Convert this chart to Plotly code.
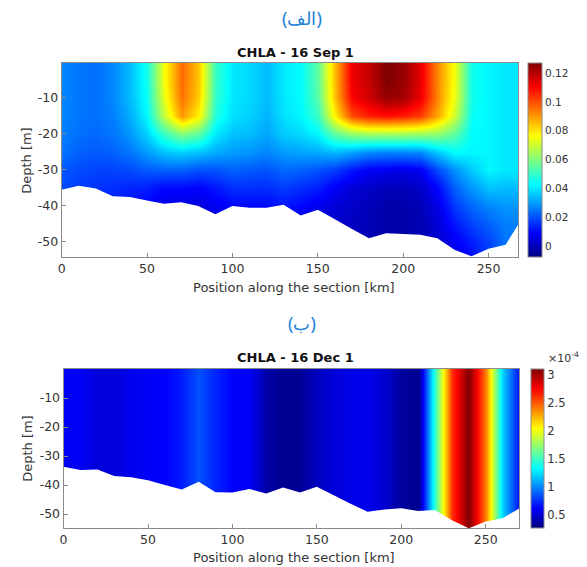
import plotly.graph_objects as go

# ---------------- data ----------------
stations_km = [0, 10, 20, 30, 40, 50, 60, 70, 80, 90, 100, 110, 120, 130, 140,
               150, 160, 170, 180, 190, 200, 210, 220, 230, 240, 250, 260, 270]
depth_levels = [0, -5, -10, -15, -20, -25, -30, -35, -40, -45, -50, -55]

# September CHLA, one row per depth level (values across stations)
sep_0m  = [0.027,0.025,0.024,0.027,0.034,0.045,0.075,0.096,0.084,0.050,0.040,0.038,0.034,0.040,0.043,0.055,0.085,0.112,0.118,0.127,0.124,0.113,0.092,0.075,0.045,0.042,0.040,0.040]
sep_5m  = [0.027,0.025,0.024,0.027,0.034,0.045,0.075,0.096,0.084,0.050,0.040,0.038,0.034,0.040,0.043,0.055,0.085,0.112,0.118,0.127,0.124,0.113,0.092,0.075,0.045,0.042,0.040,0.040]
sep_10m = [0.027,0.025,0.024,0.027,0.034,0.044,0.073,0.095,0.083,0.049,0.040,0.038,0.034,0.040,0.043,0.054,0.084,0.110,0.116,0.124,0.122,0.112,0.092,0.074,0.045,0.042,0.040,0.040]
sep_15m = [0.027,0.025,0.024,0.026,0.032,0.042,0.068,0.090,0.078,0.047,0.039,0.037,0.033,0.039,0.042,0.050,0.078,0.100,0.106,0.108,0.106,0.102,0.088,0.070,0.044,0.042,0.040,0.040]
sep_20m = [0.026,0.024,0.023,0.025,0.029,0.037,0.050,0.060,0.055,0.040,0.035,0.034,0.031,0.036,0.038,0.042,0.055,0.062,0.064,0.064,0.064,0.063,0.062,0.055,0.043,0.042,0.040,0.040]
sep_25m = [0.025,0.022,0.021,0.022,0.025,0.030,0.035,0.037,0.035,0.032,0.030,0.029,0.027,0.030,0.031,0.032,0.034,0.031,0.028,0.027,0.027,0.028,0.036,0.043,0.042,0.042,0.040,0.040]
sep_30m = [0.021,0.019,0.018,0.018,0.019,0.021,0.022,0.022,0.020,0.020,0.022,0.021,0.020,0.023,0.022,0.020,0.017,0.012,0.008,0.007,0.006,0.008,0.019,0.028,0.036,0.042,0.040,0.040]
sep_35m = [0.019,0.017,0.016,0.015,0.014,0.013,0.010,0.010,0.009,0.012,0.015,0.015,0.015,0.017,0.015,0.013,0.008,0.004,0.002,0.000,0.000,0.002,0.010,0.022,0.029,0.035,0.034,0.034]
sep_40m = [0.018,0.016,0.015,0.013,0.011,0.009,0.006,0.005,0.005,0.007,0.010,0.010,0.010,0.012,0.010,0.007,0.004,0.002,0.000,-0.002,-0.002,0.000,0.006,0.017,0.023,0.027,0.029,0.029]
sep_45m = [0.018,0.016,0.015,0.013,0.011,0.009,0.006,0.004,0.004,0.005,0.008,0.008,0.008,0.009,0.007,0.005,0.003,0.001,0.000,-0.002,-0.002,-0.001,0.004,0.012,0.018,0.022,0.026,0.026]
sep_50m = [0.018,0.016,0.015,0.013,0.011,0.009,0.006,0.004,0.004,0.005,0.008,0.008,0.008,0.009,0.007,0.005,0.003,0.001,0.000,-0.002,-0.002,-0.001,0.003,0.008,0.013,0.018,0.025,0.025]
sep_55m = [0.018,0.016,0.015,0.013,0.011,0.009,0.006,0.004,0.004,0.005,0.008,0.008,0.008,0.009,0.007,0.005,0.003,0.001,0.000,-0.002,-0.002,-0.001,0.003,0.006,0.010,0.017,0.025,0.025]

# December CHLA (same at all depths), per station
dec_chla = [0.60e-4,0.60e-4,0.52e-4,0.52e-4,0.58e-4,0.60e-4,0.62e-4,0.70e-4,0.85e-4,0.72e-4,
            0.62e-4,0.60e-4,0.38e-4,0.32e-4,0.33e-4,0.45e-4,0.52e-4,0.56e-4,0.57e-4,0.50e-4,
            0.35e-4,0.32e-4,1.45e-4,2.60e-4,3.10e-4,2.40e-4,1.20e-4,0.65e-4]

# Bathymetry (sea floor depth) along the section
sep_bottom_km = [0,10,20,30,40,50,60,70,80,90,100,110,120,130,140,150,160,170,180,190,200,210,220,230,240,250,260,267.5]
sep_bottom_m = [-35.5,-34.4,-35.2,-37.3,-37.5,-38.5,-39.4,-39.0,-40.0,-42.3,-40.0,-40.5,-40.5,-39.7,-42.7,
                -41.1,-43.7,-46.4,-49.0,-47.6,-47.8,-48.0,-49.0,-52.2,-54.0,-51.9,-50.8,-45.0]
dec_bottom_km = [0,10,20,30,40,50,60,70,80,90,100,110,120,130,140,150,160,170,180,190,200,210,220,230,240,250,260,270]
dec_bottom_m = [-33.7,-34.8,-34.6,-36.9,-37.3,-38.3,-40.0,-41.5,-38.9,-42.5,-42.6,-41.4,-42.9,-40.8,-42.6,
                -40.6,-43.5,-46.4,-49.2,-48.4,-48.0,-48.9,-48.6,-52.1,-54.9,-52.6,-51.4,-48.0]

sep_ticks = [0, 0.02, 0.04, 0.06, 0.08, 0.1, 0.12]
dec_ticks = [0.5e-4, 1e-4, 1.5e-4, 2e-4, 2.5e-4, 3e-4]
dec_ticktext = ["0.5", "1", "1.5", "2", "2.5", "3"]
x_ticks = [0, 50, 100, 150, 200, 250]
y_ticks = [-10, -20, -30, -40, -50]

# ---------------- figure ----------------
W, H = 587, 567
jet = [[0, "#000080"], [0.125, "#0000ff"], [0.375, "#00ffff"],
       [0.625, "#ffff00"], [0.875, "#ff0000"], [1, "#800000"]]
FONT = "DejaVu Sans"
TXT = "#333333"
AX = "#8a8a8a"

def px_x(p):
    return p / W

def px_y(p):
    return 1 - p / H

fig = go.Figure()

sep_z = [sep_0m, sep_5m, sep_10m, sep_15m, sep_20m, sep_25m, sep_30m,
         sep_35m, sep_40m, sep_45m, sep_50m, sep_55m]

fig.add_trace(go.Heatmap(
    x=stations_km, y=depth_levels, z=sep_z, zsmooth="best",
    colorscale=jet, zmin=-0.0076, zmax=0.127, xaxis="x", yaxis="y",
    colorbar=dict(x=px_x(524), xanchor="left", thickness=14,
                  y=px_y(160), yanchor="middle", len=(257 - 63) / H, lenmode="fraction",
                  tickvals=sep_ticks, ticktext=[f"{t:g}" for t in sep_ticks],
                  tickfont=dict(family=FONT, size=10.5, color=TXT),
                  outlinewidth=1, outlinecolor=AX, ticks="", ypad=0, xpad=4),
    hoverinfo="skip"))

fig.add_trace(go.Scatter(
    x=sep_bottom_km + [sep_bottom_km[-1], sep_bottom_km[0]],
    y=sep_bottom_m + [-60, -60],
    fill="toself", fillcolor="white", mode="none", xaxis="x", yaxis="y",
    showlegend=False, hoverinfo="skip"))

dec_z = [dec_chla, dec_chla]
fig.add_trace(go.Heatmap(
    x=stations_km, y=[0, -60], z=dec_z, zsmooth="best",
    colorscale=jet, zmin=0.27e-4, zmax=3.1e-4, xaxis="x2", yaxis="y2",
    colorbar=dict(x=px_x(527), xanchor="left", thickness=13,
                  y=px_y(448.5), yanchor="middle", len=(528 - 369) / H, lenmode="fraction",
                  tickvals=dec_ticks, ticktext=dec_ticktext,
                  tickfont=dict(family=FONT, size=11.5, color=TXT),
                  outlinewidth=1, outlinecolor=AX, ticks="", ypad=0, xpad=4),
    hoverinfo="skip"))

fig.add_trace(go.Scatter(
    x=dec_bottom_km + [dec_bottom_km[-1], dec_bottom_km[0]],
    y=dec_bottom_m + [-60, -60],
    fill="toself", fillcolor="white", mode="none", xaxis="x2", yaxis="y2",
    showlegend=False, hoverinfo="skip"))

axis_common = dict(showgrid=False, zeroline=False, showline=True, linecolor=AX,
                   linewidth=1, mirror=True, ticks="inside", ticklen=4, tickcolor=AX,
                   tickfont=dict(family=FONT, size=12.5, color=TXT))
y_ticktext = [str(v) for v in y_ticks]   # plain hyphen minus, as in the reference

fig.update_layout(
    width=W, height=H, margin=dict(l=0, r=0, t=0, b=0),
    paper_bgcolor="white", plot_bgcolor="white", showlegend=False,
    xaxis=dict(domain=[px_x(58), px_x(518)], range=[0, 267.5], tickvals=x_ticks,
               anchor="y", **axis_common),
    yaxis=dict(domain=[px_y(257), px_y(63)], range=[-54.2, -0.3], tickvals=y_ticks,
               ticktext=y_ticktext, anchor="x", **axis_common),
    xaxis2=dict(domain=[px_x(60), px_x(519)], range=[0, 270], tickvals=x_ticks,
                anchor="y2", **axis_common),
    yaxis2=dict(domain=[px_y(528), px_y(369)], range=[-54.8, 0], tickvals=y_ticks,
                ticktext=y_ticktext, anchor="x2", **axis_common),
)

ann = [
    dict(text="(الف)", x=px_x(300), y=px_y(18), font=dict(family="Noto Sans", size=18, color="#2381d6")),
    dict(text="<b>CHLA - 16 Sep 1</b>", x=px_x(293), y=px_y(53), font=dict(family=FONT, size=13, color="#111111")),
    dict(text="Position along the section [km]", x=px_x(292), y=px_y(287), font=dict(family=FONT, size=13, color=TXT)),
    dict(text="Depth [m]", x=px_x(22), y=px_y(160), textangle=-90, font=dict(family=FONT, size=13, color=TXT)),
    dict(text="(ب)", x=px_x(300), y=px_y(323), font=dict(family="Noto Sans", size=18, color="#2381d6")),
    dict(text="<b>CHLA - 16 Dec 1</b>", x=px_x(293), y=px_y(357), font=dict(family=FONT, size=13, color="#111111")),
    dict(text="Position along the section [km]", x=px_x(292), y=px_y(557), font=dict(family=FONT, size=13, color=TXT)),
    dict(text="Depth [m]", x=px_x(23), y=px_y(448), textangle=-90, font=dict(family=FONT, size=13, color=TXT)),
    dict(text="×10<sup>-4</sup>", x=px_x(563), y=px_y(357), font=dict(family=FONT, size=11, color=TXT)),
]
for a in ann:
    a.update(xref="paper", yref="paper", showarrow=False, xanchor="center", yanchor="middle")
fig.update_layout(annotations=ann)

fig.write_html("out.html")
